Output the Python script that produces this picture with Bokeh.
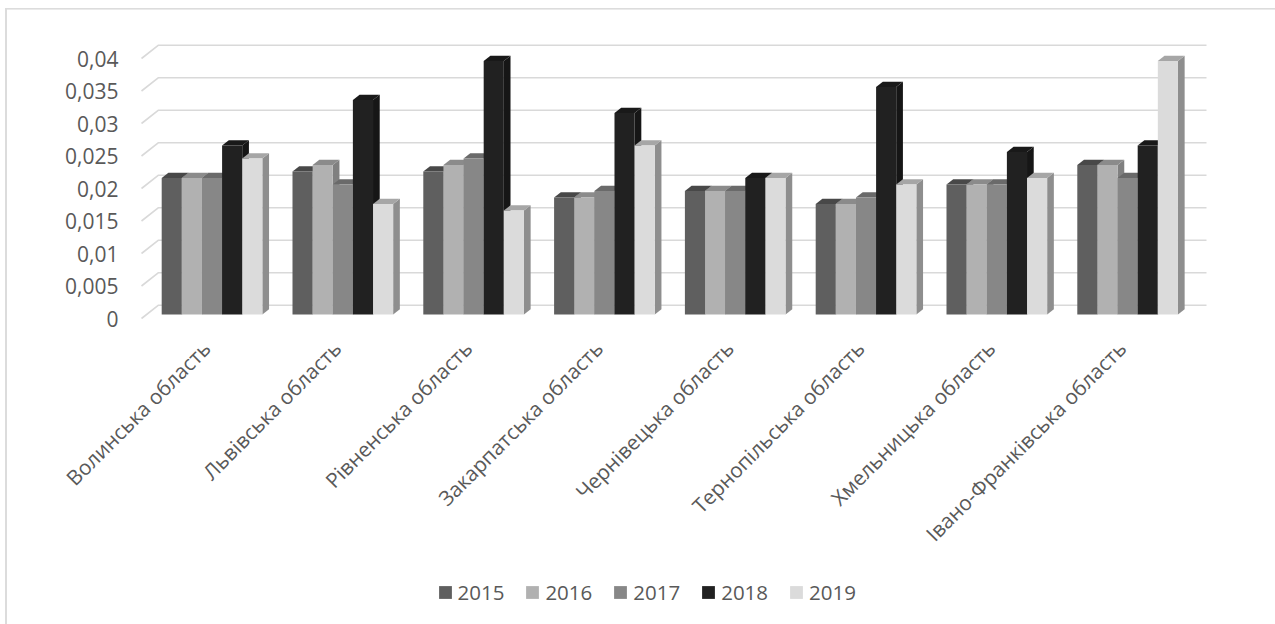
from bokeh.plotting import figure
from bokeh.models import FixedTicker, Legend, LegendItem, Range1d
from bokeh.core.properties import value
from bokeh.embed import file_html
from bokeh.resources import INLINE
import math

categories = ["Волинська область", "Львівська область", "Рівненська область", "Закарпатська область",
              "Чернівецька область", "Тернопільська область", "Хмельницька область", "Івано-Франківська область"]
years = ["2015", "2016", "2017", "2018", "2019"]
v2015 = [0.021, 0.022, 0.022, 0.018, 0.019, 0.017, 0.020, 0.023]
v2016 = [0.021, 0.023, 0.023, 0.018, 0.019, 0.017, 0.020, 0.023]
v2017 = [0.021, 0.020, 0.024, 0.019, 0.019, 0.018, 0.020, 0.021]
v2018 = [0.026, 0.033, 0.039, 0.031, 0.021, 0.035, 0.025, 0.026]
v2019 = [0.024, 0.017, 0.016, 0.026, 0.021, 0.020, 0.021, 0.039]
series = [v2015, v2016, v2017, v2018, v2019]
y_ticks = [0, 0.005, 0.01, 0.015, 0.02, 0.025, 0.03, 0.035, 0.04]
y_labels = ["0", "0,005", "0,01", "0,015", "0,02", "0,025", "0,03", "0,035", "0,04"]

front = ["#5f5f5f", "#b1b1b1", "#878787", "#212121", "#dbdbdb"]
top = ["#484848", "#8b8b8b", "#6a6a6a", "#191919", "#a6a6a6"]
side = ["#4d4d4d", "#808080", "#6c6c6c", "#161616", "#8e8e8e"]
FONT = "Open Sans"
TEXT = "#595959"
GRID = "#d9d9d9"

# geometry (px): the frame spans the canvas so the legend and the labels are not clipped
W, H = 1275, 624
X0, GRID_R, Y0 = 141, 1206, 318
PX_X = 130.8      # px per category
PX_Y = 6500.0     # px per unit of value
dx = lambda px: px / PX_X
dy = lambda px: px / PX_Y

border_css = ("linear-gradient(#dcdcdc,#dcdcdc) 5px 8px/2px 100% no-repeat,"
              "linear-gradient(#dcdcdc,#dcdcdc) 5px 8px/100% 1.6px no-repeat")
p = figure(width=W, height=H, output_backend="svg", toolbar_location=None,
           x_range=Range1d(dx(-X0), dx(W - X0)), y_range=Range1d(dy(Y0 - H), dy(Y0)),
           min_border_left=0, min_border_right=0, min_border_top=0, min_border_bottom=0,
           margin=(0, 0, 0, 0), background_fill_alpha=0, border_fill_color=None,
           styles={"background": border_css})
p.outline_line_color = None
p.grid.visible = False
p.xaxis.visible = False

# walls: side slant + back line for each gridline
wall_d_x, wall_d_y = dx(17), dy(13.3)
xs_end = dx(GRID_R - X0)
p.multi_line(xs=[[0, wall_d_x, xs_end] for _ in y_ticks],
             ys=[[t, t + wall_d_y, t + wall_d_y] for t in y_ticks],
             line_color=GRID, line_width=1.6)

# bars
bar_w = dx(20.13)
start = dx(20.2)
depth_x, depth_y = dx(6.7), dy(5.2)
base = dy(4)
items = []
for k, (vals, yr) in enumerate(zip(series, years)):
    lefts = [i + start + k * bar_w for i in range(len(vals))]
    rights = [l + bar_w for l in lefts]
    tops = [v + base for v in vals]
    p.patches(xs=[[r, r + depth_x, r + depth_x, r] for r in rights],
              ys=[[base, base + depth_y, t + depth_y, t] for t in tops],
              fill_color=side[k], line_color=None)
    p.patches(xs=[[l, l + depth_x, r + depth_x, r] for l, r in zip(lefts, rights)],
              ys=[[t, t + depth_y, t + depth_y, t] for t in tops],
              fill_color=top[k], line_color=None)
    r = p.quad(left=lefts, right=rights, bottom=base, top=tops, fill_color=front[k], line_color=None)
    items.append(LegendItem(label=yr, renderers=[r]))

legend = Legend(items=items, orientation="horizontal", location=(436.5, 18), padding=0, margin=0, spacing=20,
                glyph_width=16, glyph_height=16, label_standoff=5, label_height=20,
                label_text_font=FONT, label_text_font_size="20.5px", label_text_color=TEXT,
                border_line_color=None, background_fill_alpha=0)
p.add_layout(legend, "center")

# value axis
ax = p.yaxis[0]
ax.fixed_location = 0
ax.ticker = FixedTicker(ticks=y_ticks)
ax.major_label_overrides = dict(zip(y_ticks, y_labels))
ax.axis_line_color = None
ax.major_tick_line_color = None
ax.minor_tick_line_color = None
ax.major_label_standoff = 17
ax.major_label_text_font = FONT
ax.major_label_text_font_size = "21px"
ax.major_label_text_color = TEXT

# category labels
label_x = [i + dx(65) for i in range(len(categories))]
label_y = [dy(-26)] * len(categories)
p.text(x=label_x, y=label_y, text=categories, angle=math.pi / 4, text_align="right", text_baseline="middle",
       text_font=value(FONT), text_font_size="20.7px", text_color=TEXT)

open("out.html", "w").write(file_html(p, INLINE))
